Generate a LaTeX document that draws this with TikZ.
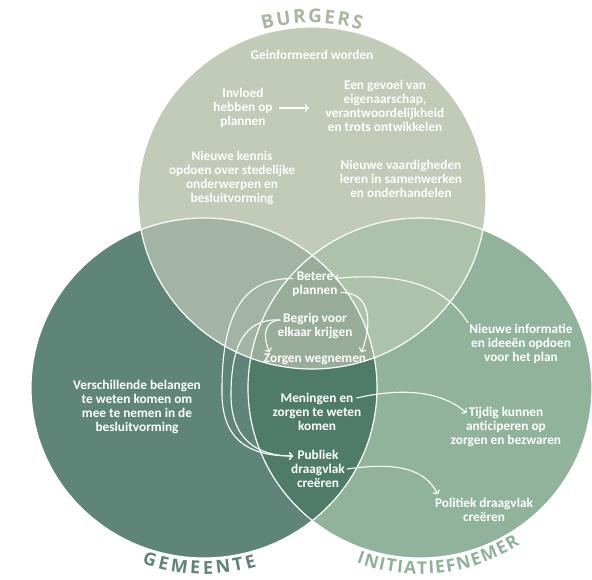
\documentclass[tikz,border=0pt]{standalone}
\usepackage{fontspec}
\setmainfont{Carlito}
\newfontfamily\titelfont{Open Sans}
\usetikzlibrary{arrows.meta,decorations.text}
\definecolor{burgers}{HTML}{C1CBB8}
\definecolor{gemeente}{HTML}{5F8579}
\definecolor{initiatief}{HTML}{91B39C}
\definecolor{burggem}{HTML}{A3B4A5}
\definecolor{burginit}{HTML}{ADC2AB}
\definecolor{geminit}{HTML}{4F7B69}
\definecolor{alledrie}{HTML}{98AD99}
\definecolor{burgerstitel}{HTML}{A9B7A1}
\definecolor{initiatieftitel}{HTML}{8FB19A}

\begin{document}
\begin{tikzpicture}[x=1pt,y=-1pt,
    txt/.style={text=white,font=\fontsize{13.3}{14}\selectfont\bfseries,align=center,inner sep=1pt},
    pijl/.style={draw=white,line width=1.1pt,-{Straight Barb[length=3pt,width=7pt]}},
    rand/.style={draw=white,line width=1.2pt}]
  \useasboundingbox (0,0) rectangle (592,579);

  % de drie cirkels
  \fill[gemeente] (204,388) ellipse [x radius=173, y radius=170];
  \fill[initiatief] (420,388) ellipse [x radius=172, y radius=170];
  \fill[burgers] (312,198) ellipse [x radius=174, y radius=171];

  % overlappingen
  \begin{scope}
    \clip (312,198) ellipse [x radius=174, y radius=171];
    \fill[burggem] (204,388) ellipse [x radius=173, y radius=170];
    \fill[burginit] (420,388) ellipse [x radius=172, y radius=170];
  \end{scope}
  \begin{scope}
    \clip (204,388) ellipse [x radius=173, y radius=170];
    \fill[geminit] (420,388) ellipse [x radius=172, y radius=170];
    \clip (312,198) ellipse [x radius=174, y radius=171];
    \fill[alledrie] (420,388) ellipse [x radius=172, y radius=170];
  \end{scope}

  % witte randen
  \draw[rand] (204,388) ellipse [x radius=173, y radius=170];
  \draw[rand] (420,388) ellipse [x radius=172, y radius=170];
  \draw[rand] (312,198) ellipse [x radius=174, y radius=171];

  % titels langs de cirkels
  \path[decorate,decoration={text along path,text align=fit to path,text color=burgerstitel,
      text={|\titelfont\bfseries\fontsize{19}{19}\selectfont|BURGERS}}]
    (312,198) ++(254:178 and 175) arc [start angle=254, end angle=286, x radius=178, y radius=175];
  \path[decorate,decoration={text along path,text align=fit to path,text color=gemeente,
      text={|\titelfont\bfseries\fontsize{18}{18}\selectfont|GEMEENTE}}]
    (204,388) ++(109.5:186 and 186) arc [start angle=109.5, end angle=73.5, radius=186];
  \path[decorate,decoration={text along path,text align=fit to path,text color=initiatieftitel,
      text={|\titelfont\bfseries\fontsize{17.5}{17.5}\selectfont|INITIATIEFNEMER}}]
    (420,388) ++(110:186 and 186) arc [start angle=110, end angle=57.5, radius=186];

  % burgers
  \node[txt] (geinf) at (312,55) {Geinformeerd worden};
  \node[txt] (invloed) at (243,108) {Invloed\\hebben op\\plannen};
  \node[txt] (gevoel) at (385,106) {Een gevoel van\\eigenaarschap,\\verantwoordelijkheid\\en trots ontwikkelen};
  \node[txt] (kennis) at (232,178) {Nieuwe kennis\\opdoen over stedelijke\\onderwerpen en\\besluitvorming};
  \node[txt] (vaardig) at (401,179) {Nieuwe vaardigheden\\leren in samenwerken\\en onderhandelen};
  \node[txt] (betere) at (315,284.5) {Betere\\plannen};
  \node[txt] (begrip) at (315,326) {Begrip voor\\elkaar krijgen};
  \node[txt] (zorgen) at (315,359) {Zorgen wegnemen};

  % gemeente en initiatiefnemer
  \node[txt] (meningen) at (317,412) {Meningen en\\zorgen te weten\\komen};
  \node[txt] (publiek) at (318,469) {Publiek\\draagvlak\\creëren};
  \node[txt] (belangen) at (137,407) {Verschillende belangen\\te weten komen om\\mee te nemen in de\\besluitvorming};
  \node[txt] (nieuweinfo) at (521,344) {Nieuwe informatie\\en ideeën opdoen\\voor het plan};
  \node[txt] (tijdig) at (506,427) {Tijdig kunnen\\anticiperen op\\zorgen en bezwaren};
  \node[txt] (politiek) at (484,509.5) {Politiek draagvlak\\creëren};

  % pijlen
  \draw[pijl] ([xshift=5pt]invloed.east) -- ++(30,0);
  \draw[pijl] (nieuweinfo.north west) .. controls (445,285) and (400,272) .. ([xshift=-4pt,yshift=6pt]betere.east);
  \draw[pijl] ([xshift=2pt,yshift=-8pt]betere.east) .. controls (372,292) and (372,325) .. ([xshift=-6pt]zorgen.north east);
  \draw[pijl] ([xshift=4pt,yshift=6pt]begrip.west) .. controls (265,320) and (262,335) .. ([xshift=7pt]zorgen.north west);
  \draw[pijl] ([xshift=2pt,yshift=6pt]betere.west) .. controls (245,278) and (221,310) .. (222,395) .. controls (223,445) and (255,456) .. ([xshift=3pt,yshift=13pt]publiek.west);
  \draw[pijl] ([xshift=4pt,yshift=6pt]begrip.west) .. controls (245,318) and (231,345) .. (231,395) .. controls (231,440) and (258,456) .. ([xshift=3pt,yshift=13pt]publiek.west);
  \draw[pijl] ([xshift=-6pt,yshift=14pt]meningen.east) .. controls (400,388) and (440,390) .. ([xshift=17pt,yshift=14pt]tijdig.west);
  \draw[pijl] ([xshift=1pt]publiek.east) .. controls (395,462) and (425,468) .. ([xshift=4pt,yshift=2pt]politiek.north west);
\end{tikzpicture}
\end{document}
